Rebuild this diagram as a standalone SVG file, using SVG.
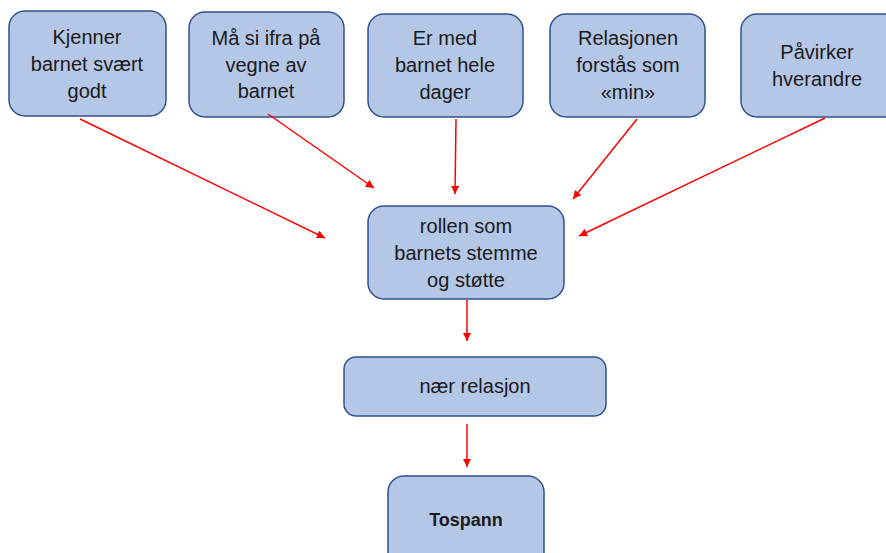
<svg xmlns="http://www.w3.org/2000/svg" width="886" height="553" viewBox="0 0 886 553">
<style>
.box{fill:#B4C7E7;stroke:#2F528F;stroke-width:1.5}
.t{font-family:"Liberation Sans",Arial,sans-serif;font-size:20px;fill:#1a1a1a;text-anchor:middle}
.b{font-weight:bold;font-size:18px}
.c{stroke:#FF0000;stroke-width:1.5;fill:none;marker-end:url(#ah)}
</style>
<defs>
<marker id="ah" viewBox="0 0 10 10" refX="10" refY="5" markerWidth="5.5" markerHeight="5.5" orient="auto" markerUnits="strokeWidth">
<path d="M0,0 L10,5 L0,10 z" fill="#FF0000"/>
</marker>
</defs>
<rect width="886" height="553" fill="#ffffff"/>
<g id="n1"><rect class="box" x="9" y="11" width="157" height="105" rx="16"/>
<text class="t" x="87" y="44">Kjenner</text><text class="t" x="87" y="71">barnet svært</text><text class="t" x="87" y="98">godt</text></g>
<g id="n2"><rect class="box" x="189" y="12" width="155" height="105" rx="16"/>
<text class="t" x="266" y="45">Må si ifra på</text><text class="t" x="266" y="72">vegne av</text><text class="t" x="266" y="98">barnet</text></g>
<g id="n3"><rect class="box" x="368" y="14" width="155" height="103" rx="16"/>
<text class="t" x="445" y="45">Er med</text><text class="t" x="445" y="72">barnet hele</text><text class="t" x="445" y="99">dager</text></g>
<g id="n4"><rect class="box" x="550" y="14" width="155" height="103" rx="16"/>
<text class="t" x="628" y="45">Relasjonen</text><text class="t" x="628" y="72">forstås som</text><text class="t" x="628" y="99">«min»</text></g>
<g id="n5"><rect class="box" x="741" y="14" width="160" height="103" rx="16"/>
<text class="t" x="817" y="59">Påvirker</text><text class="t" x="817" y="86">hverandre</text></g>
<g id="n6"><rect class="box" x="368" y="206" width="196" height="93" rx="16"/>
<text class="t" x="466" y="233">rollen som</text><text class="t" x="466" y="260">barnets stemme</text><text class="t" x="466" y="287">og støtte</text></g>
<g id="n7"><rect class="box" x="344" y="357" width="262" height="59" rx="12"/>
<text class="t" x="475" y="393">nær relasjon</text></g>
<g id="n8"><rect class="box" x="388" y="476" width="156" height="100" rx="16"/>
<text class="t b" x="466" y="526">Tospann</text></g>
<g id="connectors">
<line class="c" x1="80" y1="119" x2="325" y2="238"/>
<line class="c" x1="268" y1="114" x2="374" y2="188"/>
<line class="c" x1="456" y1="119" x2="455" y2="194"/>
<line class="c" x1="637" y1="119" x2="573" y2="199"/>
<line class="c" x1="825" y1="118" x2="579" y2="236"/>
<line class="c" x1="467" y1="300" x2="467" y2="341"/>
<line class="c" x1="467" y1="424" x2="467" y2="467"/>
</g>
</svg>
